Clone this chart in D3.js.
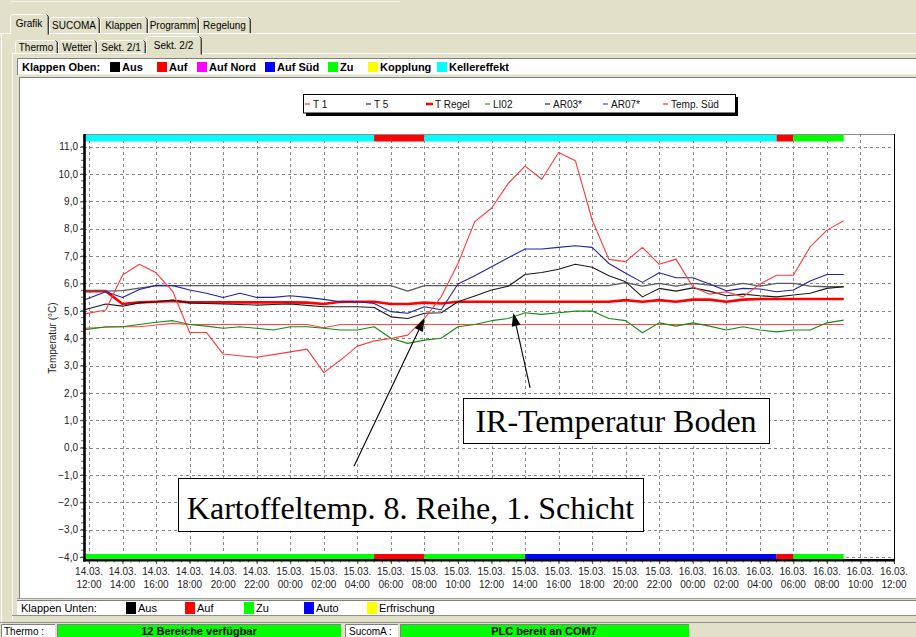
<!DOCTYPE html>
<html>
<head>
<meta charset="utf-8">
<script src="https://cdn.jsdelivr.net/npm/d3@7"></script>
<style>
  html, body { margin: 0; padding: 0; background: #e2e0c8; }
  svg { display: block; font-family: "Liberation Sans", Arial, sans-serif; }
  text.serif { font-family: "Liberation Serif", "Times New Roman", serif; }
</style>
</head>
<body>
<svg id="chart" width="916" height="637"></svg>
<script>
// Sample times, in hours after 14.03. 12:00 (hourly log, first entry at 11:40)
const sampleHours = [-0.33, 1, 2, 3, 4, 5, 6, 7, 8, 9, 10, 11, 12, 13, 14, 15, 16, 17, 18, 19, 20,
  21, 22, 23, 24, 25, 26, 27, 28, 29, 30, 31, 32, 33, 34, 35, 36, 37, 38, 39, 40, 41, 42, 43, 44, 45];

// Temperatures in °C
const t1 = [4.36, 4.40, 4.42, 4.42, 4.48, 4.54, 4.50, 4.50, 4.50, 4.50, 4.50, 4.50, 4.50, 4.50, 4.38, 4.50,
  4.50, 4.50, 4.50, 4.50, 4.50, 4.50, 4.50, 4.50, 4.50, 4.50, 4.50, 4.50, 4.50, 4.50, 4.50, 4.50, 4.50,
  4.50, 4.50, 4.50, 4.50, 4.50, 4.50, 4.50, 4.50, 4.50, 4.50, 4.50, 4.50, 4.50];
const t5 = [5.72, 5.72, 5.74, 5.83, 5.92, 5.92, 5.92, 5.92, 5.92, 5.92, 5.92, 5.92, 5.92, 5.92, 5.92, 5.92,
  5.92, 5.92, 5.92, 5.72, 5.92, 5.92, 5.92, 5.92, 5.92, 5.92, 5.92, 5.92, 5.92, 5.92, 5.92, 5.92, 6.03,
  5.90, 6.00, 5.90, 6.00, 5.94, 5.90, 6.00, 5.90, 6.00, 6.00, 5.90, 5.88, 5.88];
const tRegel = [5.72, 5.72, 5.25, 5.31, 5.33, 5.36, 5.31, 5.31, 5.31, 5.31, 5.31, 5.31, 5.31, 5.30, 5.25, 5.33,
  5.33, 5.33, 5.25, 5.25, 5.30, 5.27, 5.33, 5.33, 5.33, 5.33, 5.33, 5.33, 5.33, 5.33, 5.33, 5.33, 5.39,
  5.33, 5.39, 5.33, 5.41, 5.41, 5.33, 5.41, 5.43, 5.43, 5.43, 5.43, 5.43, 5.43];
const li02 = [4.30, 4.42, 4.42, 4.50, 4.58, 4.64, 4.50, 4.44, 4.36, 4.42, 4.36, 4.30, 4.42, 4.42, 4.36, 4.30,
  4.30, 4.42, 4.00, 3.81, 3.93, 4.00, 4.42, 4.50, 4.64, 4.72, 4.93, 4.87, 4.93, 4.99, 4.99, 4.72, 4.64,
  4.20, 4.56, 4.44, 4.56, 4.44, 4.30, 4.42, 4.30, 4.23, 4.30, 4.30, 4.56, 4.66];
const ar03 = [5.03, 5.25, 5.17, 5.29, 5.33, 5.39, 5.29, 5.27, 5.25, 5.23, 5.21, 5.23, 5.25, 5.20, 5.15, 5.15,
  5.15, 5.12, 4.78, 4.72, 4.91, 4.93, 5.33, 5.54, 5.76, 5.90, 6.33, 6.40, 6.52, 6.70, 6.59, 6.28, 6.06,
  5.51, 5.82, 5.72, 5.84, 5.72, 5.55, 5.61, 5.55, 5.51, 5.58, 5.64, 5.82, 5.88];
const ar07 = [5.39, 5.70, 5.49, 5.78, 5.93, 5.92, 5.76, 5.64, 5.49, 5.64, 5.49, 5.49, 5.55, 5.49, 5.42, 5.33,
  5.33, 5.27, 4.97, 4.91, 5.15, 5.04, 5.98, 6.28, 6.61, 6.94, 7.26, 7.26, 7.32, 7.38, 7.32, 6.73, 6.37,
  6.04, 6.39, 6.21, 6.21, 5.98, 5.73, 5.82, 5.80, 5.70, 5.76, 6.09, 6.33, 6.33];
const tempSued = [4.88, 5.03, 6.31, 6.70, 6.39, 5.70, 4.21, 4.21, 3.42, 3.36, 3.30, 3.40, 3.50, 3.60, 2.74, 3.20,
  3.71, 3.90, 3.99, 4.11, 4.72, 5.51, 6.73, 8.26, 8.75, 9.66, 10.29, 9.81, 10.79, 10.49, 8.32, 6.88, 6.80,
  7.32, 6.70, 6.89, 5.88, 5.61, 5.70, 5.51, 5.98, 6.30, 6.30, 7.34, 7.95, 8.29];

// Flap states (start hour, end hour, state)
const flapsTop = [[-0.33, 17, "Kellereffekt"], [17, 20, "Auf"], [20, 41, "Kellereffekt"], [41, 42, "Auf"], [42, 45, "Zu"]];
const flapsBottom = [[-0.33, 17, "Zu"], [17, 20, "Auf"], [20, 26, "Zu"], [26, 41, "Auto"], [41, 42, "Auf"], [42, 45, "Zu"]];

// Legends
const legendTopNames = ["Aus", "Auf", "Auf Nord", "Auf Süd", "Zu", "Kopplung", "Kellereffekt"];
const legendTopColors = ["#000000", "#ff0000", "#ff00ff", "#0000ff", "#00ff00", "#ffff00", "#00ffff"];
const legendBottomNames = ["Aus", "Auf", "Zu", "Auto", "Erfrischung"];
const legendBottomColors = ["#000000", "#ff0000", "#00ff00", "#0000ff", "#ffff00"];
const stateColors = { "Kellereffekt": "#00ffff", "Auf": "#ff0000", "Zu": "#00ff00", "Auto": "#0000ff" };

const seriesNames = ["T 1", "T 5", "T Regel", "LI02", "AR03*", "AR07*", "Temp. Süd"];
const yTicks = [-4, -3, -2, -1, 0, 1, 2, 3, 4, 5, 6, 7, 8, 9, 10, 11];

const bg = "#e2e0c8";
const svg = d3.select("#chart");
const base = new Date(2009, 2, 14, 12, 0);
const at = h => new Date(base.getTime() + h * 3600e3);

// ---------- window chrome ----------
svg.append("rect").attr("width", 916).attr("height", 637).attr("fill", bg);
svg.append("line").attr("x1", 10).attr("x2", 400).attr("y1", 1.5).attr("y2", 1.5).attr("stroke", "#f4f3ea");

function tab(g, x0, x1, y0, y1, label, ty) {
  g.append("rect").attr("x", x0).attr("y", y0).attr("width", x1 - x0).attr("height", y1 - y0).attr("fill", bg);
  g.append("path").attr("d", `M${x0 + 0.5},${y1} V${y0 + 2.5} L${x0 + 2.5},${y0 + 0.5} H${x1 - 2.5}`)
    .attr("stroke", "#ffffff").attr("fill", "none");
  g.append("path").attr("d", `M${x1 - 1.5},${y0 + 1.5} V${y1}`).attr("stroke", "#a09f90").attr("fill", "none");
  g.append("path").attr("d", `M${x1 - 2.5},${y0 + 0.5} L${x1 - 0.5},${y0 + 2.5} V${y1}`)
    .attr("stroke", "#404040").attr("fill", "none");
  g.append("text").attr("x", (x0 + x1) / 2 - 0.5).attr("y", ty).attr("text-anchor", "middle")
    .attr("dominant-baseline", "central").attr("font-size", 10).attr("fill", "#000").text(label);
}

const chrome = svg.append("g");
// first tab row
chrome.append("line").attr("x1", 0).attr("x2", 916).attr("y1", 33.5).attr("y2", 33.5).attr("stroke", "#fff");
chrome.append("line").attr("x1", 1.5).attr("x2", 1.5).attr("y1", 33).attr("y2", 637).attr("stroke", "#fff");
[["SUCOMA", 49, 100], ["Klappen", 100, 148], ["Programm", 148, 199], ["Regelung", 199, 251]]
  .forEach(d => tab(chrome, d[1], d[2], 17, 33, d[0], 25.5));
tab(chrome, 10, 49, 14, 34.5, "Grafik", 23.5);
// second tab row
chrome.append("line").attr("x1", 12).attr("x2", 916).attr("y1", 53.5).attr("y2", 53.5).attr("stroke", "#fff");
chrome.append("line").attr("x1", 12.5).attr("x2", 12.5).attr("y1", 53).attr("y2", 620).attr("stroke", "#fff");
[["Thermo", 15, 58], ["Wetter", 58, 97], ["Sekt. 2/1", 97, 146]]
  .forEach(d => tab(chrome, d[1], d[2], 40, 53, d[0], 47));
tab(chrome, 146, 202, 36, 54.5, "Sekt. 2/2", 45);

// "Klappen Oben" strip
const topStrip = svg.append("g");
topStrip.append("rect").attr("x", 17).attr("y", 58.5).attr("width", 900).attr("height", 16).attr("fill", "#fff");
topStrip.append("path").attr("d", "M17.5,75 V58.5 H916").attr("stroke", "#808080").attr("fill", "none");
topStrip.append("text").attr("x", 22).attr("y", 67).attr("dominant-baseline", "central")
  .attr("font-size", 11).attr("font-weight", "bold").text("Klappen Oben:");
const topLegX = [110, 157, 197, 265, 328, 368, 437];
legendTopNames.forEach((n, i) => {
  topStrip.append("rect").attr("x", topLegX[i]).attr("y", 62).attr("width", 10).attr("height", 10).attr("fill", legendTopColors[i]);
  topStrip.append("text").attr("x", topLegX[i] + 12).attr("y", 67).attr("dominant-baseline", "central")
    .attr("font-size", 11).attr("font-weight", "bold").text(n);
});

// chart panel
svg.append("rect").attr("x", 19).attr("y", 77).attr("width", 897).attr("height", 521).attr("fill", "#fff");
svg.append("path").attr("d", "M19.5,598 V77.5 H916").attr("stroke", "#808080").attr("fill", "none");
svg.append("line").attr("x1", 17).attr("x2", 916).attr("y1", 598.5).attr("y2", 598.5).attr("stroke", "#a0a0a0");

// "Klappen Unten" strip
const botStrip = svg.append("g");
botStrip.append("rect").attr("x", 17).attr("y", 600).attr("width", 900).attr("height", 15).attr("fill", "#fff");
botStrip.append("line").attr("x1", 17).attr("x2", 916).attr("y1", 600.5).attr("y2", 600.5).attr("stroke", "#808080");
botStrip.append("line").attr("x1", 12).attr("x2", 916).attr("y1", 615.5).attr("y2", 615.5).attr("stroke", "#909090");
botStrip.append("line").attr("x1", 0).attr("x2", 916).attr("y1", 622.5).attr("y2", 622.5).attr("stroke", "#909090");
botStrip.append("text").attr("x", 21).attr("y", 608).attr("dominant-baseline", "central")
  .attr("font-size", 11).text("Klappen Unten:");
const botLegX = [126, 185, 244, 304, 367];
legendBottomNames.forEach((n, i) => {
  botStrip.append("rect").attr("x", botLegX[i]).attr("y", 602).attr("width", 10).attr("height", 12).attr("fill", legendBottomColors[i]);
  botStrip.append("text").attr("x", botLegX[i] + 12).attr("y", 608).attr("dominant-baseline", "central")
    .attr("font-size", 11).text(n);
});

// status bar
const status = svg.append("g");
function sunken(x, w, fill) {
  status.append("rect").attr("x", x).attr("y", 624).attr("width", w).attr("height", 13).attr("fill", fill);
  status.append("path").attr("d", `M${x + 0.5},637 V624.5 H${x + w}`).attr("stroke", "#808080").attr("fill", "none");
}
sunken(1, 54, "#fff"); sunken(57, 284, "#00ff00"); sunken(345, 53, "#fff"); sunken(400, 289, "#00ff00");
status.append("text").attr("x", 4).attr("y", 631).attr("dominant-baseline", "central").attr("font-size", 10).text("Thermo :");
status.append("text").attr("x", 349).attr("y", 631).attr("dominant-baseline", "central").attr("font-size", 10).text("SucomA :");
status.append("text").attr("x", 199).attr("y", 631).attr("text-anchor", "middle").attr("dominant-baseline", "central")
  .attr("font-size", 11).attr("font-weight", "bold").text("12 Bereiche verfügbar");
status.append("text").attr("x", 544).attr("y", 631).attr("text-anchor", "middle").attr("dominant-baseline", "central")
  .attr("font-size", 11).attr("font-weight", "bold").text("PLC bereit an COM7");

// ---------- chart ----------
const plotTop = 134, plotBottom = 560;
const x = d3.scaleTime().domain([at(-0.3), at(48)]).range([84, 894]);
const y = d3.scaleLinear().domain([-4, 11]).range([557, 146.7]);
const plot = svg.append("g");

// dashed grid
const gridTimes = d3.timeHour.every(2).range(at(0), at(48.1));
plot.selectAll("line.vg").data(gridTimes).join("line")
  .attr("x1", d => Math.round(x(d)) + 0.5).attr("x2", d => Math.round(x(d)) + 0.5)
  .attr("y1", plotTop).attr("y2", plotBottom)
  .attr("stroke", "#8a8a8a").attr("stroke-dasharray", "3,3");
plot.selectAll("line.hg").data(yTicks).join("line")
  .attr("x1", 84).attr("x2", 894)
  .attr("y1", d => Math.round(y(d)) + 0.5).attr("y2", d => Math.round(y(d)) + 0.5)
  .attr("stroke", "#8a8a8a").attr("stroke-dasharray", "3,3");

// flap state bars
plot.selectAll("rect.ft").data(flapsTop).join("rect")
  .attr("x", d => x(at(d[0]))).attr("width", d => x(at(d[1])) - x(at(d[0])))
  .attr("y", 135).attr("height", 6.5).attr("fill", d => stateColors[d[2]]);
plot.selectAll("rect.fb").data(flapsBottom).join("rect")
  .attr("x", d => x(at(d[0]))).attr("width", d => x(at(d[1])) - x(at(d[0])))
  .attr("y", 554).attr("height", 6).attr("fill", d => stateColors[d[2]]);

// frame
plot.append("line").attr("x1", 84).attr("x2", 895).attr("y1", 134.5).attr("y2", 134.5).attr("stroke", "#909090");
plot.append("line").attr("x1", 894.5).attr("x2", 894.5).attr("y1", 134).attr("y2", 561).attr("stroke", "#000");

// series lines
const series = [
  { name: "T Regel", values: tRegel, color: "#ff0000", width: 2.6 },
  { name: "T 1", values: t1, color: "#ff4646", width: 1.1 },
  { name: "LI02", values: li02, color: "#138a13", width: 1.1 },
  { name: "T 5", values: t5, color: "#5a5a5a", width: 1.3 },
  { name: "AR03*", values: ar03, color: "#1a1a1a", width: 1.1 },
  { name: "AR07*", values: ar07, color: "#24249a", width: 1.1 },
  { name: "Temp. Süd", values: tempSued, color: "#ff3a3a", width: 1.1 }
];
const line = d3.line().x((d, i) => x(at(sampleHours[i]))).y(d => y(d));
plot.selectAll("path.series").data(series).join("path")
  .attr("fill", "none").attr("stroke", d => d.color).attr("stroke-width", d => d.width)
  .attr("stroke-linejoin", "round").attr("d", d => line(d.values));

// axes
const yAxis = d3.axisLeft(y).tickValues(yTicks).tickSize(4).tickPadding(2).tickFormat(d3.format(".1f"));
const gy = plot.append("g").attr("transform", "translate(84,0)").call(yAxis);
gy.attr("font-family", null).attr("font-size", null);
gy.selectAll("text").text(d => d3.format(".1f")(d).replace(".", ",")).attr("font-size", 10).attr("fill", "#222");
gy.select(".domain").remove();
gy.selectAll("line").attr("stroke", "#444");
const yMinor = d3.range(-4, 11.01, 0.25);
plot.selectAll("line.ym").data(yMinor).join("line")
  .attr("x1", 81).attr("x2", 84).attr("y1", d => y(d)).attr("y2", d => y(d)).attr("stroke", "#666");

const xAxis = d3.axisBottom(x).ticks(d3.timeHour.every(2)).tickSize(4).tickFormat("");
const gx = plot.append("g").attr("transform", `translate(0,${plotBottom})`).call(xAxis);
gx.select(".domain").remove();
gx.selectAll("line").attr("stroke", "#444");
const xMinor = d3.timeMinute.every(30).range(at(-0.3), at(48.01));
plot.selectAll("line.xm").data(xMinor).join("line")
  .attr("x1", d => x(d)).attr("x2", d => x(d)).attr("y1", plotBottom).attr("y2", plotBottom + 2.5).attr("stroke", "#666");
const fmtDay = d3.timeFormat("%d.%m."), fmtTime = d3.timeFormat("%H:%M");
const xl = plot.selectAll("text.xl").data(gridTimes).join("text")
  .attr("text-anchor", "middle").attr("font-size", 10).attr("fill", "#222");
xl.append("tspan").attr("x", d => x(d)).attr("y", 575).text(fmtDay);
xl.append("tspan").attr("x", d => x(d)).attr("y", 588).text(fmtTime);

// axis lines
plot.append("line").attr("x1", 84.5).attr("x2", 84.5).attr("y1", 134).attr("y2", 561.5).attr("stroke", "#000").attr("stroke-width", 2.6);
plot.append("line").attr("x1", 83).attr("x2", 895).attr("y1", 560.3).attr("y2", 560.3).attr("stroke", "#000").attr("stroke-width", 2.6);

plot.append("text").attr("transform", "translate(52,338) rotate(-90)").attr("text-anchor", "middle")
  .attr("dominant-baseline", "central").attr("font-size", 10).attr("fill", "#222").text("Temperatur (°C)");

// series legend
const lg = svg.append("g");
lg.append("rect").attr("x", 306).attr("y", 97).attr("width", 432).attr("height", 19).attr("fill", "#000");
lg.append("rect").attr("x", 303.5).attr("y", 94.5).attr("width", 432).attr("height", 18.5)
  .attr("fill", "#fff").attr("stroke", "#000");
const legX = [305, 366, 426, 485, 545, 603, 663];
const legColors = ["#ff0000", "#000", "#ff0000", "#138a13", "#000", "#24249a", "#ff0000"];
seriesNames.forEach((n, i) => {
  lg.append("line").attr("x1", legX[i]).attr("x2", legX[i] + (n === "T Regel" ? 7 : 5))
    .attr("y1", 104).attr("y2", 104).attr("stroke", legColors[i]).attr("stroke-width", n === "T Regel" ? 2.5 : 1);
  lg.append("text").attr("x", legX[i] + (n === "T Regel" ? 9 : 8)).attr("y", 104).attr("dominant-baseline", "central")
    .attr("font-size", 10).attr("fill", "#111").text(n);
});

// annotations
const ann = svg.append("g");
function arrow(h0, v0, h1, v1) {
  const x0 = x(at(h0)), y0 = y(v0), x1 = x(at(h1)), y1 = y(v1);
  const a = Math.atan2(y1 - y0, x1 - x0), L = 13, Wd = 4.5;
  const bx = x1 - L * Math.cos(a), by = y1 - L * Math.sin(a);
  ann.append("line").attr("x1", x0).attr("y1", y0).attr("x2", bx).attr("y2", by).attr("stroke", "#000").attr("stroke-width", 1.1);
  ann.append("path").attr("d", `M${x1},${y1} L${bx + Wd * Math.sin(a)},${by - Wd * Math.cos(a)} L${bx - Wd * Math.sin(a)},${by + Wd * Math.cos(a)} Z`)
    .attr("fill", "#000");
}
arrow(15.8, -0.68, 20.0, 4.73);
arrow(26.3, 2.18, 25.3, 4.92);

function box(x0, y0, w, h, label, ty) {
  ann.append("rect").attr("x", x0 + 0.5).attr("y", y0 + 0.5).attr("width", w).attr("height", h)
    .attr("fill", "#fff").attr("stroke", "#000");
  ann.append("text").attr("class", "serif").attr("x", x0 + w / 2).attr("y", ty).attr("text-anchor", "middle")
    .attr("font-size", 32).attr("fill", "#000").text(label);
}
box(463, 398, 306, 45, "IR-Temperatur Boden", 432);
box(178, 478, 465, 53, "Kartoffeltemp. 8. Reihe, 1. Schicht", 519);
</script>
</body>
</html>
